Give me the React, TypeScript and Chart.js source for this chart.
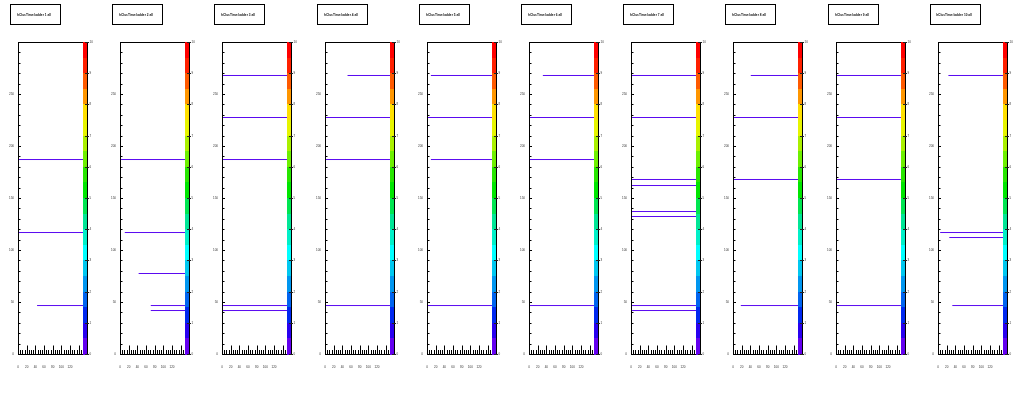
import React, { useEffect, useRef } from 'react';
import { Chart, registerables } from 'chart.js';

Chart.register(...registerables);

// ---- axis ranges and labels ----
const X_MIN = 0;
const X_MAX = 150;
const X_LABEL_STEP = 20;
const Y_MIN = 0;
const Y_MAX = 300;
const Y_LABEL_STEP = 50;
const Z_MIN = 0;
const Z_MAX = 10;
const Z_TICK_LABELS = ['0', '1', '2', '3', '4', '5', '6', '7', '8', '9', '10'];

// palette bands, bottom (lowest) to top (highest)
const PALETTE_COLORS = [
  '#6400f0', '#2800f0', '#0028f0', '#0064f0', '#0096f0', '#00c8f0', '#00ffff',
  '#00f0c8', '#00e696', '#00e650', '#00e600', '#28e600', '#6ef000', '#aaf000',
  '#e6f500', '#ffe000', '#ff9600', '#ff5a00', '#ff2000', '#ff0000',
];
const LINE_COLOR = '#5a0af0';

const PANEL_TITLES = [
  'hClusTime:ladder 1 all', 'hClusTime:ladder 2 all', 'hClusTime:ladder 3 all',
  'hClusTime:ladder 4 all', 'hClusTime:ladder 5 all', 'hClusTime:ladder 6 all',
  'hClusTime:ladder 7 all', 'hClusTime:ladder 8 all', 'hClusTime:ladder 9 all',
  'hClusTime:ladder 10 all',
];

// ---- per-panel segments: y level and x start (each runs to X_MAX) ----
const p1Levels = [187, 116.8, 46.6];
const p1Starts = [0, 0, 44];
const p2Levels = [187, 116.8, 77.4, 46.6, 41.8];
const p2Starts = [0, 11, 43, 71, 71];
const p3Levels = [267.8, 227.4, 187, 46.6, 41.8];
const p3Starts = [0, 0, 0, 0, 0];
const p4Levels = [267.8, 227.4, 187, 46.6];
const p4Starts = [52, 0, 0, 0];
const p5Levels = [267.8, 227.4, 187, 46.6];
const p5Starts = [9, 0, 9, 0];
const p6Levels = [267.8, 227.4, 187, 46.6];
const p6Starts = [32, 0, 0, 0];
const p7Levels = [267.8, 227.4, 167.8, 162, 137, 132.2, 46.6, 41.8];
const p7Starts = [0, 0, 0, 0, 0, 0, 0, 0];
const p8Levels = [267.8, 227.4, 167.8, 46.6];
const p8Starts = [41, 0, 0, 18];
const p9Levels = [267.8, 227.4, 167.8, 46.6];
const p9Starts = [0, 0, 0, 0];
const p10Levels = [267.8, 116.8, 112, 46.6];
const p10Starts = [24, 5, 26, 33];

const PANEL_LEVELS = [p1Levels, p2Levels, p3Levels, p4Levels, p5Levels, p6Levels, p7Levels, p8Levels, p9Levels, p10Levels];
const PANEL_STARTS = [p1Starts, p2Starts, p3Starts, p4Starts, p5Starts, p6Starts, p7Starts, p8Starts, p9Starts, p10Starts];

const FONT = 'Liberation Sans';
const PANEL_W = 102;
const PANEL_STEP = 102.2;
const H = 399;

function decorPlugin(title: string) {
  return {
    id: 'rootDecor',
    afterDraw(chart: any) {
      const { ctx, chartArea: a, scales } = chart;
      const xs = scales.x;
      const ys = scales.y;
      const zs = scales.z;
      ctx.save();
      ctx.lineWidth = 1;
      ctx.strokeStyle = '#000';

      // frame
      ctx.beginPath();
      ctx.moveTo(a.left + 0.5, a.bottom + 0.5);
      ctx.lineTo(a.left + 0.5, a.top + 0.5);
      ctx.lineTo(a.right, a.top + 0.5);
      ctx.moveTo(a.left, a.bottom + 0.5);
      ctx.lineTo(a.right, a.bottom + 0.5);
      ctx.stroke();

      // y ticks (inward)
      ctx.beginPath();
      for (let v = Y_MIN; v <= Y_MAX; v += 10) {
        const p = Math.round(ys.getPixelForValue(v)) + 0.5;
        const len = v % Y_LABEL_STEP === 0 ? 3 : 2.5;
        ctx.moveTo(a.left, p);
        ctx.lineTo(a.left + len, p);
      }
      ctx.stroke();

      // x ticks (inward)
      ctx.beginPath();
      for (let v = X_MIN; v <= X_MAX; v += 5) {
        const p = Math.round(xs.getPixelForValue(v)) + 0.5;
        const len = v % X_LABEL_STEP === 0 ? 9 : 4.5;
        ctx.moveTo(p, a.bottom + 0.5);
        ctx.lineTo(p, a.bottom + 0.5 - len);
      }
      ctx.stroke();

      // palette
      const x0 = Math.round(a.right);
      const x1 = x0 + 4;
      const n = PALETTE_COLORS.length;
      const bandH = (Z_MAX - Z_MIN) / n;
      for (let j = 0; j < n; j++) {
        const yTop = Math.round(zs.getPixelForValue(Z_MIN + (j + 1) * bandH));
        const yBot = Math.round(zs.getPixelForValue(Z_MIN + j * bandH));
        ctx.fillStyle = PALETTE_COLORS[j];
        ctx.fillRect(x0, yTop, x1 - x0, yBot - yTop + (j === 0 ? 1 : 0));
      }
      ctx.beginPath();
      ctx.moveTo(x1 + 0.5, Math.round(a.top));
      ctx.lineTo(x1 + 0.5, Math.round(a.bottom) + 1);
      ctx.stroke();

      // palette ticks + labels
      ctx.strokeStyle = '#222';
      ctx.fillStyle = '#333';
      ctx.font = `3px "${FONT}"`;
      ctx.textBaseline = 'middle';
      ctx.textAlign = 'left';
      ctx.beginPath();
      Z_TICK_LABELS.forEach((lab, k) => {
        const p = Math.round(zs.getPixelForValue(Z_MIN + k)) + 0.5;
        ctx.moveTo(x1 - 2, p);
        ctx.lineTo(x1 + 2, p);
        ctx.fillText(lab, x1 + 2.5, p);
      });
      ctx.stroke();

      // title box
      ctx.strokeStyle = '#000';
      ctx.strokeRect(10.5, 4.5, 50, 20);
      ctx.fillStyle = '#111';
      ctx.textAlign = 'center';
      ctx.font = `bold 3.2px "${FONT}"`;
      ctx.fillText(title, 34, 14.8);
      ctx.restore();
    },
  };
}

function Panel({ index }: { index: number }) {
  const ref = useRef<HTMLCanvasElement | null>(null);
  useEffect(() => {
    const levels = PANEL_LEVELS[index];
    const starts = PANEL_STARTS[index];
    const datasets = levels.map((y, k) => ({
      data: [{ x: starts[k], y }, { x: X_MAX, y }],
      showLine: true,
      borderColor: LINE_COLOR,
      backgroundColor: LINE_COLOR,
      borderWidth: 1,
      pointRadius: 0,
      fill: false,
      tension: 0,
      xAxisID: 'x',
      yAxisID: 'y',
    }));
    const chart = new Chart(ref.current as HTMLCanvasElement, {
      type: 'scatter',
      data: { datasets },
      options: {
        animation: false,
        responsive: false,
        events: [],
        layout: { padding: { top: 42, right: 19, left: 0, bottom: 0 } },
        plugins: { legend: { display: false }, tooltip: { enabled: false }, title: { display: false } },
        scales: {
          x: {
            type: 'linear',
            min: X_MIN,
            max: X_MAX,
            afterFit: (s: any) => { s.height = 45; },
            grid: { display: false, drawTicks: false },
            border: { display: false },
            ticks: {
              stepSize: X_LABEL_STEP,
              autoSkip: false,
              maxRotation: 0,
              minRotation: 0,
              padding: 11.5,
              color: '#333',
              font: { size: 3, family: FONT },
              callback: (v: any) => (Number(v) % X_LABEL_STEP === 0 && Number(v) < X_MAX ? String(v) : ''),
            },
          },
          y: {
            type: 'linear',
            min: Y_MIN,
            max: Y_MAX,
            afterFit: (s: any) => { s.width = 18; },
            grid: { display: false, drawTicks: false },
            border: { display: false },
            ticks: {
              stepSize: Y_LABEL_STEP,
              autoSkip: false,
              padding: 4,
              color: '#333',
              font: { size: 3, family: FONT },
              callback: (v: any) => (Number(v) < Y_MAX ? String(v) : ''),
            },
          },
          z: {
            type: 'linear',
            position: 'right',
            min: Z_MIN,
            max: Z_MAX,
            display: false,
          },
        },
      } as any,
      plugins: [decorPlugin(PANEL_TITLES[index])],
    });
    return () => chart.destroy();
  }, [index]);
  return (
    <canvas
      ref={ref}
      width={PANEL_W}
      height={H}
      style={{ position: 'absolute', left: Math.round(index * PANEL_STEP), top: 0, width: PANEL_W, height: H }}
    />
  );
}

export default function App() {
  return (
    <div style={{ position: 'absolute', left: 0, top: 0, width: 1022, height: H, background: '#fff' }}>
      {PANEL_LEVELS.map((_, i) => (
        <Panel key={i} index={i} />
      ))}
    </div>
  );
}
